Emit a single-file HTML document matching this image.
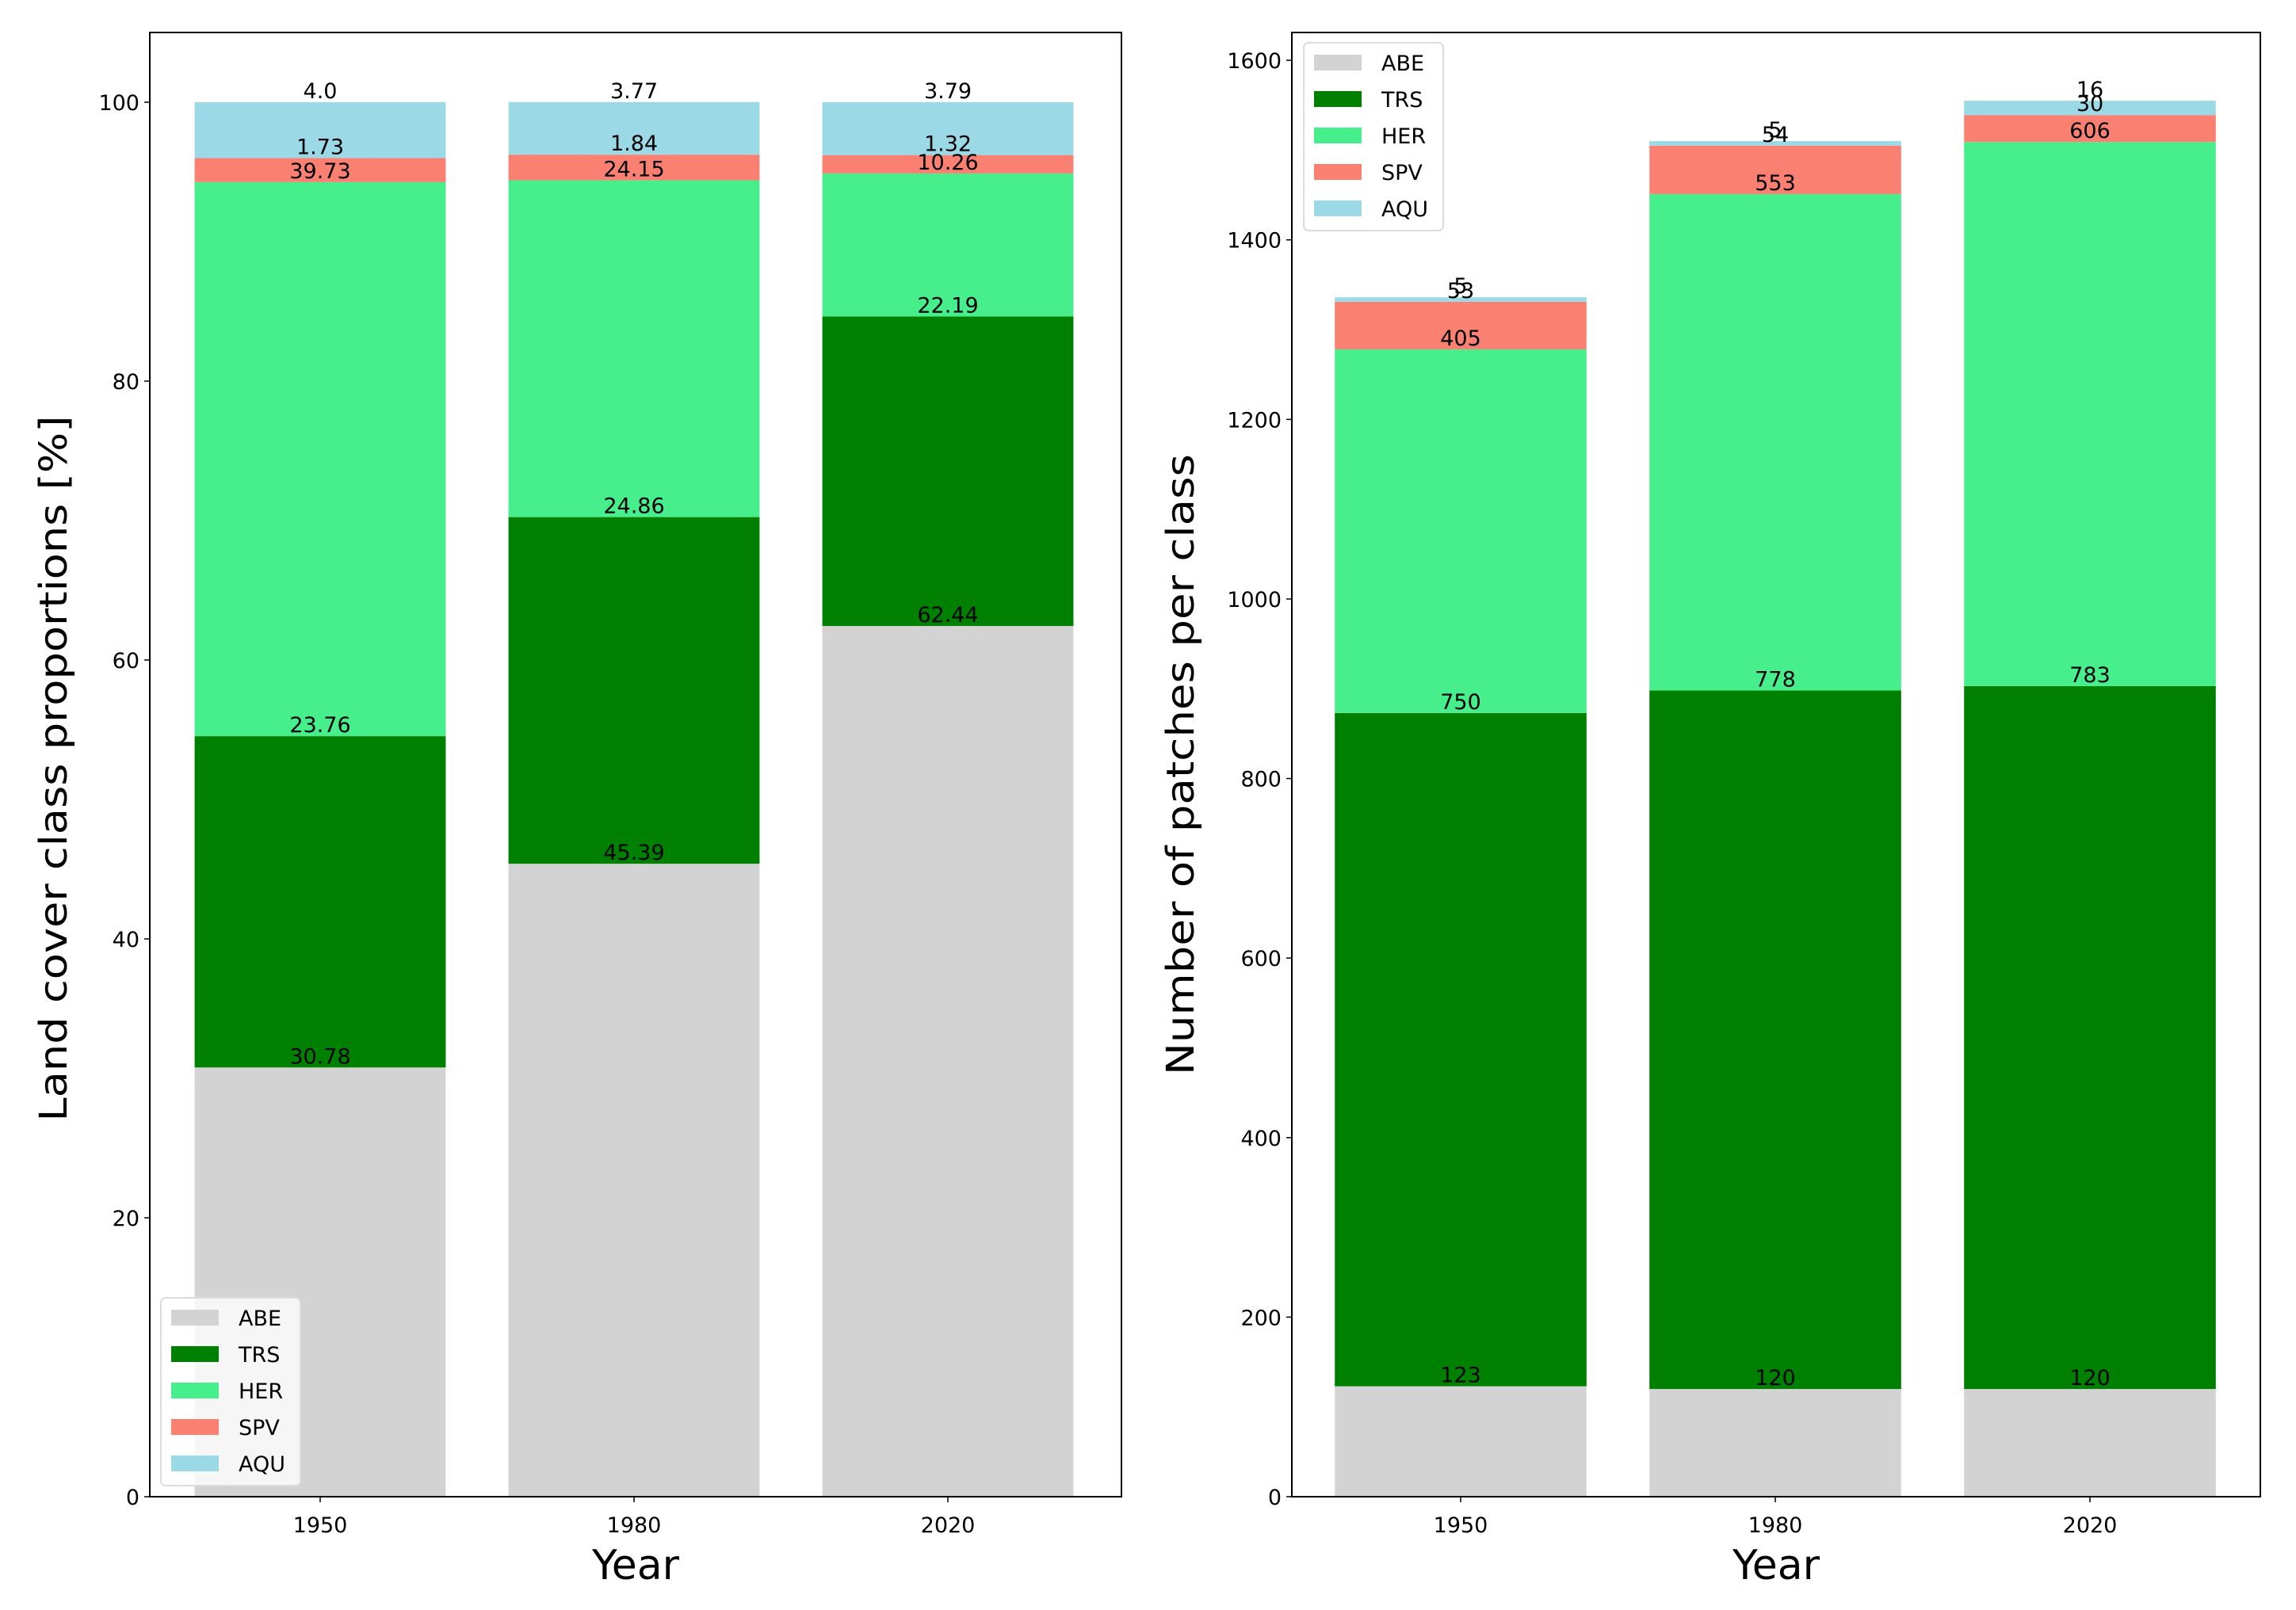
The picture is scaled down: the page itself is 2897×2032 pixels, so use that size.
<!DOCTYPE html>
<html><head><meta charset="utf-8"><style>
html,body{margin:0;padding:0;background:#fff;}
svg{display:block;font-family:"DejaVu Sans","Liberation Sans",sans-serif;}
</style></head><body>
<svg id="fig" width="2897" height="2032" viewBox="0 0 2897 2032" xmlns="http://www.w3.org/2000/svg"></svg>
<script>
const years = ["1950","1980","2020"];
const classes = ["ABE","TRS","HER","SPV","AQU"];
const colors = ["#d3d3d3","#008000","#46ef8b","#fa8072","#9bd9e7"];
const propABE = [30.78,45.39,62.44];
const propTRS = [23.76,24.86,22.19];
const propHER = [39.73,24.15,10.26];
const propSPV = [1.73,1.84,1.32];
const propAQU = [4.0,3.77,3.79];
const propLabels = [["30.78","45.39","62.44"],["23.76","24.86","22.19"],["39.73","24.15","10.26"],["1.73","1.84","1.32"],["4.0","3.77","3.79"]];
const patchABE = [123,120,120];
const patchTRS = [750,778,783];
const patchHER = [405,553,606];
const patchSPV = [53,54,30];
const patchAQU = [5,5,16];
const leftTicks = [0,20,40,60,80,100];
const rightTicks = [0,200,400,600,800,1000,1200,1400,1600];

const NS="http://www.w3.org/2000/svg";
const svg=document.getElementById('fig');
function mk(tag,attrs,parent){const e=document.createElementNS(NS,tag);for(const k in attrs)e.setAttribute(k,attrs[k]);(parent||svg).appendChild(e);return e;}

function panel(cfg){
  const g=mk('g',{});
  
  
  const y=v=>cfg.y0-(v-0)*(cfg.y0-cfg.top)/cfg.ymax;
  const x=i=>cfg.c0+i*cfg.step;
  const bw=cfg.step*0.8;
  const series=cfg.series;
  const labels=cfg.labels;
  for(let i=0;i<years.length;i++){
    let cum=0;
    for(let s=0;s<series.length;s++){
      const v=series[s][i];
      const r=mk('rect',{x:x(i)-bw/2,y:y(cum+v),width:bw,height:y(cum)-y(cum+v),fill:colors[s]},g);
      
      
      cum+=v;
    }
  }
  for(let i=0;i<years.length;i++){
    let cum=0;
    for(let s=0;s<series.length;s++){
      const v=series[s][i];cum+=v;
      const t=mk('text',{x:x(i),y:y(cum)-5,'text-anchor':'middle','font-size':27,fill:'#000'},g);
      t.textContent=labels?labels[s][i]:String(v);
      
      
    }
  }
  const f=mk('rect',{x:cfg.left,y:cfg.top,width:cfg.right-cfg.left,height:cfg.y0-cfg.top,fill:'none',stroke:'#000','stroke-width':2},g);
  
  
  for(const tv of cfg.ticks){
    const yy=y(tv);
    mk('line',{x1:cfg.left-7,x2:cfg.left,y1:yy,y2:yy,stroke:'#000','stroke-width':1.5},g);
    const t=mk('text',{x:cfg.left-13,y:yy+10,'text-anchor':'end','font-size':27},g);
    t.textContent=tv;
    
    
  }
  for(let i=0;i<years.length;i++){
    mk('line',{x1:x(i),x2:x(i),y1:cfg.y0,y2:cfg.y0+7,stroke:'#000','stroke-width':1.5},g);
    const t=mk('text',{x:x(i),y:cfg.y0+45,'text-anchor':'middle','font-size':27},g);
    t.textContent=years[i];
    
    
  }
  const xl=mk('text',{x:(cfg.left+cfg.right)/2,y:1993,'text-anchor':'middle','font-size':52},g);
  xl.textContent='Year';
  
  
  const yl=mk('text',{x:0,y:0,'text-anchor':'middle','font-size':48,textLength:cfg.ylen,lengthAdjust:'spacingAndGlyphs',transform:`translate(${cfg.ylx},${cfg.yly}) rotate(-90)`},g);
  yl.textContent=cfg.ylabel;
  
  
  const lg=mk('g',{},g);
  
  
  mk('rect',{x:cfg.lx,y:cfg.ly,width:176,height:237,rx:6,fill:'#fff','fill-opacity':0.8,stroke:'#dcdcdc','stroke-width':2},lg);
  for(let s=0;s<classes.length;s++){
    const cy=cfg.ly+25+s*46;
    mk('rect',{x:cfg.lx+13,y:cy-10,width:60,height:20,fill:colors[s]},lg);
    const t=mk('text',{x:cfg.lx+98,y:cy+10,'font-size':27},lg);
    t.textContent=classes[s];
    
    
  }
}

panel({name:'proportion-chart',left:189,right:1415,top:41,y0:1889,ymax:105,c0:404,step:396,
  series:[propABE,propTRS,propHER,propSPV,propAQU],labels:propLabels,ticks:leftTicks,
  ylabel:'Land cover class proportions [%]',ylx:84,yly:970,ylen:891,lx:203,ly:1638});
panel({name:'patches-chart',left:1630,right:2852,top:41,y0:1889,ymax:1631,c0:1843,step:397,
  series:[patchABE,patchTRS,patchHER,patchSPV,patchAQU],labels:null,ticks:rightTicks,
  ylabel:'Number of patches per class',ylx:1506,yly:965,ylen:784,lx:1645,ly:54});
</script>
</body></html>
